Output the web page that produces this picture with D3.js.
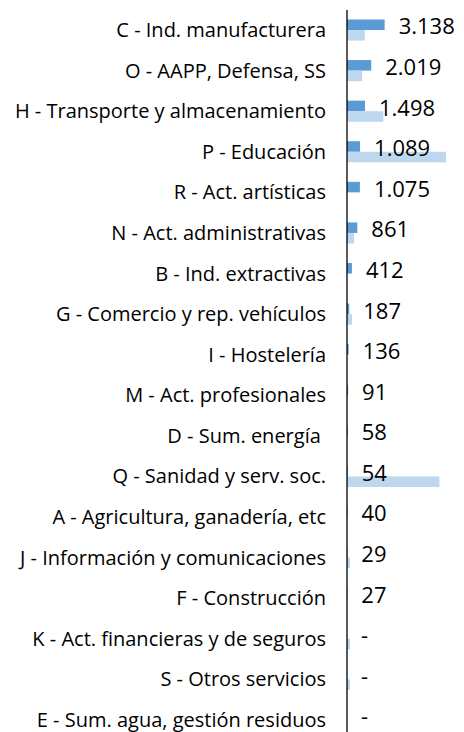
<!DOCTYPE html>
<html>
<head>
<meta charset="utf-8">
<script src="https://cdn.jsdelivr.net/npm/d3@7"></script>
<style>
    body { margin: 0; background: #fff; }
    #chart { width: 464px; height: 732px; }
    text { font-family: "Open Sans", sans-serif; fill: #000; }
</style>
</head>
<body>
<div id="chart"></div>
<script>
const categories = [
    "C - Ind. manufacturera",
    "O - AAPP, Defensa, SS",
    "H - Transporte y almacenamiento",
    "P - Educación",
    "R - Act. artísticas",
    "N - Act. administrativas",
    "B - Ind. extractivas",
    "G - Comercio y rep. vehículos",
    "I - Hostelería",
    "M - Act. profesionales",
    "D - Sum. energía ",
    "Q - Sanidad y serv. soc.",
    "A - Agricultura, ganadería, etc",
    "J - Información y comunicaciones",
    "F - Construcción",
    "K - Act. financieras y de seguros",
    "S - Otros servicios",
    "E - Sum. agua, gestión residuos"
];

const seriesMain = [3138, 2019, 1498, 1089, 1075, 861, 412, 187, 136, 91, 58, 54, 40, 29, 27, 0, 0, 0];
const seriesSecond = [1480, 1260, 3030, 8250, 0, 580, 0, 420, 0, 0, 0, 7700, 0, 250, 0, 250, 250, 0];

(function () {
    "use strict";

    const width = 464;
    const height = 732;
    const axisX = 347;

    const svg = d3.select("#chart").append("svg")
        .attr("width", width)
        .attr("height", height);

    const xScale = d3.scaleLinear()
        .domain([0, 9000])
        .range([axisX, axisX + 108]);

    const yScale = d3.scaleBand()
        .domain(categories)
        .range([0, 750])
        .padding(0.48);

    const inner = d3.scaleBand()
        .domain(["main", "second"])
        .range([0, yScale.bandwidth()]);

    const fmt = d3.formatLocale({ decimal: ",", thousands: ".", grouping: [3], currency: ["", "€"] }).format(",d");

    const rows = categories.map((c, i) => ({ cat: c, main: seriesMain[i], second: seriesSecond[i] }));

    const bars = svg.append("g").attr("class", "bars");

    bars.selectAll(".main")
        .data(rows)
        .enter()
        .append("rect")
        .attr("class", "main")
        .attr("x", xScale(0))
        .attr("y", d => yScale(d.cat) + inner("main"))
        .attr("width", d => xScale(d.main) - xScale(0))
        .attr("height", inner.bandwidth())
        .attr("fill", "#5b9bd5");

    bars.selectAll(".second")
        .data(rows)
        .enter()
        .append("rect")
        .attr("class", "second")
        .attr("x", xScale(0))
        .attr("y", d => yScale(d.cat) + inner("second"))
        .attr("width", d => xScale(d.second) - xScale(0))
        .attr("height", inner.bandwidth())
        .attr("fill", "#bdd7ee");

    const yAxis = d3.axisLeft(yScale)
        .tickSize(0)
        .tickPadding(21);

    const yAxisGroup = svg.append("g")
        .attr("class", "axis y-axis")
        .attr("transform", `translate(${axisX},0)`)
        .call(yAxis);

    yAxisGroup.select(".domain")
        .attr("stroke", "#000")
        .attr("stroke-width", 1.3)
        .attr("d", `M0,10V${height}`);

    yAxisGroup.selectAll(".tick text")
        .attr("dy", "0.35em")
        .style("font-size", "20px")
        .style("white-space", "pre")
        .style("font-family", "'Open Sans', sans-serif");

    svg.append("g")
        .attr("class", "labels")
        .selectAll("text")
        .data(rows)
        .enter()
        .append("text")
        .attr("x", d => xScale(d.main) + 14)
        .attr("y", d => yScale(d.cat) + inner("main") + inner.bandwidth() / 2 + 2)
        .attr("dy", "0.35em")
        .style("font-size", "22px")
        .text(d => d.main ? fmt(d.main) : "-");
}());
</script>
</body>
</html>
